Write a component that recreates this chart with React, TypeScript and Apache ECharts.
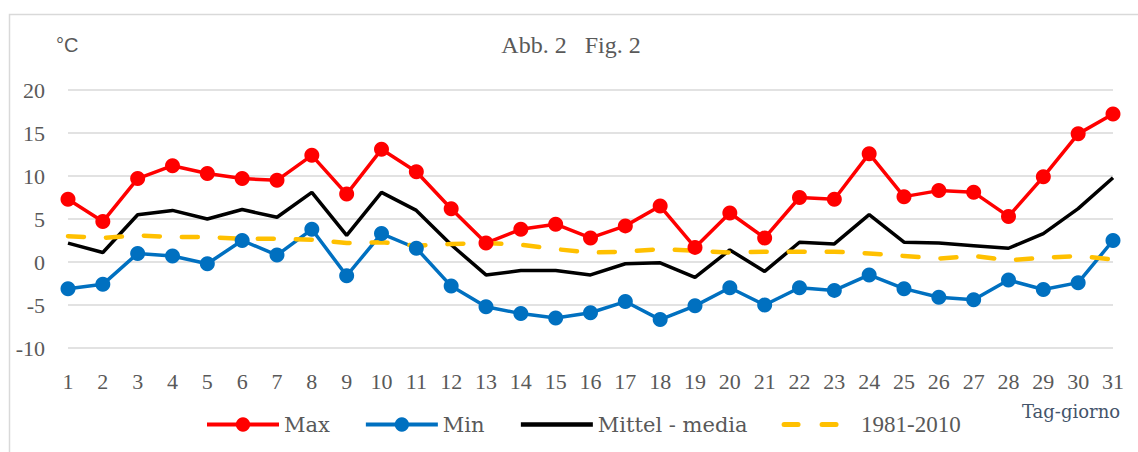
import React, { useEffect, useRef } from "react";
import * as echarts from "echarts";

const days = ["1","2","3","4","5","6","7","8","9","10","11","12","13","14","15","16","17","18","19","20","21","22","23","24","25","26","27","28","29","30","31"];
const maxTemp = [7.3, 4.7, 9.7, 11.2, 10.3, 9.7, 9.5, 12.4, 7.9, 13.1, 10.5, 6.2, 2.2, 3.8, 4.4, 2.8, 4.2, 6.5, 1.7, 5.7, 2.8, 7.5, 7.3, 12.6, 7.6, 8.3, 8.1, 5.3, 9.9, 14.9, 17.2];
const minTemp = [-3.1, -2.6, 1.0, 0.7, -0.2, 2.5, 0.8, 3.8, -1.6, 3.3, 1.6, -2.8, -5.2, -6.0, -6.5, -5.9, -4.6, -6.7, -5.1, -3.0, -5.0, -3.0, -3.3, -1.5, -3.1, -4.1, -4.4, -2.1, -3.2, -2.4, 2.5];
const meanTemp = [2.2, 1.1, 5.5, 6.0, 5.0, 6.1, 5.2, 8.1, 3.1, 8.1, 6.0, 2.0, -1.5, -1.0, -1.0, -1.5, -0.2, -0.1, -1.8, 1.4, -1.1, 2.3, 2.1, 5.5, 2.3, 2.2, 1.9, 1.6, 3.3, 6.2, 9.8];
const normTemp = [3.0, 2.8, 3.1, 2.9, 2.9, 2.7, 2.7, 2.6, 2.2, 2.3, 1.9, 2.1, 2.2, 2.0, 1.5, 1.1, 1.2, 1.5, 1.3, 1.1, 1.2, 1.2, 1.2, 1.0, 0.7, 0.4, 0.7, 0.2, 0.5, 0.7, 0.3];
const seriesNames = ["Max", "Min", "Mittel - media", "1981-2010"];

const SERIF = "'Liberation Serif', serif";
const WIDE_SERIF = "'DejaVu Serif', serif";
const GREY = "#595959";

export default function App() {
  const ref = useRef<HTMLDivElement>(null);
  useEffect(() => {
    document.body.style.margin = "0";
    const chart = echarts.init(ref.current!, null, { renderer: "svg" });
    chart.setOption({
      animation: false,
      backgroundColor: "#ffffff",
      grid: { left: 68, right: 25, top: 90, bottom: 104, containLabel: false },
      xAxis: {
        type: "category",
        data: days,
        boundaryGap: false,
        axisLine: { show: false },
        axisTick: { show: false },
        axisLabel: { color: GREY, fontFamily: SERIF, fontSize: 22, margin: 22, interval: 0 },
      },
      yAxis: {
        type: "value",
        min: -10,
        max: 20,
        interval: 5,
        axisLine: { show: false },
        axisTick: { show: false },
        axisLabel: { color: GREY, fontFamily: SERIF, fontSize: 22, margin: 23 },
        splitLine: { lineStyle: { color: "#d9d9d9", width: 1.5 } },
      },
      legend: {
        data: [
          { name: seriesNames[0], lineStyle: { width: 4 } },
          { name: seriesNames[1], lineStyle: { width: 4 } },
          { name: seriesNames[2], itemStyle: { opacity: 0 }, lineStyle: { width: 4.5 } },
          { name: seriesNames[3], itemStyle: { opacity: 0 }, lineStyle: { width: 5, type: [14, 24], cap: "round" } },
        ],
        left: 200,
        top: 408,
        itemWidth: 72,
        itemHeight: 18,
        itemGap: 34,
        formatter: (name: string) => (name === "1981-2010" ? `{d|${name}}` : `{t|${name}}`),
        textStyle: {
          color: GREY,
          rich: {
            t: { color: GREY, fontFamily: WIDE_SERIF, fontSize: 21 },
            d: { color: GREY, fontFamily: SERIF, fontSize: 23 },
          },
        },
      },
      graphic: [
        {
          type: "rect",
          shape: { x: 9.5, y: 14.5, width: 1140, height: 450 },
          style: { fill: "none", stroke: "#d9d9d9", lineWidth: 1.5 },
          silent: true,
        },
        {
          type: "text",
          x: 56,
          y: 45,
          style: { text: "°C", fill: GREY, font: "20px 'Liberation Sans', sans-serif", textVerticalAlign: "middle" },
        },
        {
          type: "text",
          x: 571,
          y: 45,
          style: { text: "Abb. 2   Fig. 2", fill: GREY, font: `24px ${SERIF}`, textAlign: "center", textVerticalAlign: "middle" },
        },
        {
          type: "text",
          x: 1022,
          y: 411,
          style: { text: "Tag-giorno", fill: "#44546A", font: `18px ${WIDE_SERIF}`, textVerticalAlign: "middle" },
        },
      ],
      series: [
        {
          name: seriesNames[0],
          type: "line",
          data: maxTemp,
          symbol: "circle",
          symbolSize: 15,
          itemStyle: { color: "#FF0000" },
          lineStyle: { color: "#FF0000", width: 3.5 },
        },
        {
          name: seriesNames[1],
          type: "line",
          data: minTemp,
          symbol: "circle",
          symbolSize: 15,
          itemStyle: { color: "#0070C0" },
          lineStyle: { color: "#0070C0", width: 3.5 },
        },
        {
          name: seriesNames[2],
          type: "line",
          data: meanTemp,
          symbol: "none",
          itemStyle: { color: "#000000" },
          lineStyle: { color: "#000000", width: 3.5 },
        },
        {
          name: seriesNames[3],
          type: "line",
          data: normTemp,
          symbol: "none",
          itemStyle: { color: "#FFC000" },
          lineStyle: { color: "#FFC000", width: 4.5, type: [16, 22], cap: "round" },
        },
      ],
    });
    return () => chart.dispose();
  }, []);
  return <div ref={ref} style={{ width: 1138, height: 452 }} />;
}
